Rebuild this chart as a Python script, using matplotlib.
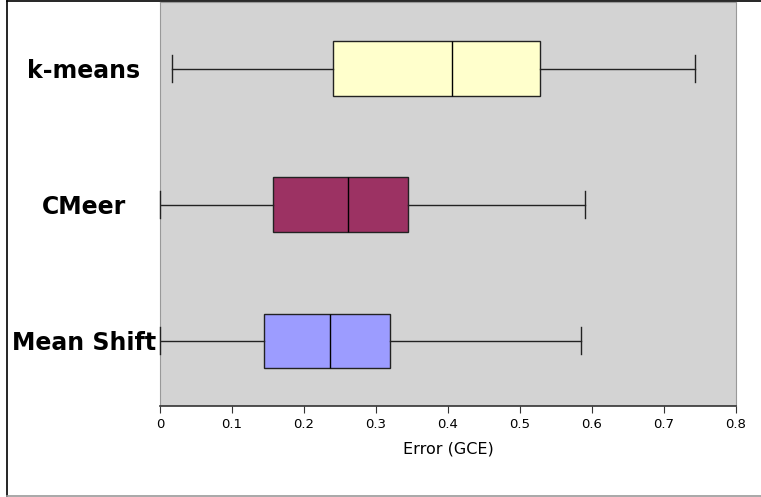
import numpy as np
import matplotlib
matplotlib.use("Agg")
import matplotlib.pyplot as plt
from matplotlib.lines import Line2D

# Box statistics per method (GCE error)
methods = ["Mean Shift", "CMeer", "k-means"]
whislo = [0.0, 0.0, 0.017]
q1 = [0.144, 0.157, 0.240]
med = [0.236, 0.261, 0.406]
q3 = [0.319, 0.344, 0.528]
whishi = [0.585, 0.590, 0.743]
colors = ["#9c9cff", "#9c3263", "#ffffcc"]

stats = [dict(label=m, whislo=a, q1=b, med=c, q3=d, whishi=e, fliers=[])
         for m, a, b, c, d, e in zip(methods, whislo, q1, med, q3, whishi)]

fig = plt.figure(figsize=(7.61, 4.97), dpi=100)
ax = fig.add_axes([160 / 761, 1 - 406 / 497, 576 / 761, 404 / 497])
ax.set_facecolor("#d3d3d3")

bp = ax.bxp(stats, vert=False, widths=0.4, patch_artist=True,
            boxprops=dict(edgecolor="#222222", linewidth=1.0),
            medianprops=dict(color="black", linewidth=1.0),
            whiskerprops=dict(color="#222222", linewidth=1.0),
            capprops=dict(color="#222222", linewidth=1.0))
for patch, c in zip(bp["boxes"], colors):
    patch.set_facecolor(c)
for cap in bp["caps"]:
    cap.set_clip_on(False)
    cap.set_zorder(5)

ax.set_xlim(0, 0.8)
ax.set_ylim(0.52, 3.49)
ax.set_xticks(np.arange(0, 0.81, 0.1))
ax.set_xticklabels(["0", "0.1", "0.2", "0.3", "0.4", "0.5", "0.6", "0.7", "0.8"])
ax.tick_params(axis="x", labelsize=9.5, length=5, color="#333333", direction="out")
# method names centred in the left margin
ax.tick_params(axis="y", length=0, labelsize=17, pad=55)
for lab in ax.get_yticklabels():
    lab.set_fontweight("bold")
    lab.set_horizontalalignment("center")
ax.set_xlabel("Error (GCE)", fontsize=11.5, labelpad=8)

for side in ["top", "right", "left"]:
    ax.spines[side].set_color("#999999")
ax.spines["bottom"].set_color("#333333")
ax.spines["bottom"].set_linewidth(1.2)

# outer frame around the figure
fig.add_artist(Line2D([7 / 761, 7 / 761], [1 - 496 / 497, 1 - 1 / 497],
                      transform=fig.transFigure, color="black", lw=1.2))
fig.add_artist(Line2D([7 / 761, 1], [1 - 1 / 497, 1 - 1 / 497],
                      transform=fig.transFigure, color="black", lw=1.2, zorder=-1))
fig.add_artist(Line2D([7 / 761, 1], [1 - 496 / 497, 1 - 496 / 497],
                      transform=fig.transFigure, color="#999999", lw=1.2))

fig.savefig("out.png", dpi=100)
